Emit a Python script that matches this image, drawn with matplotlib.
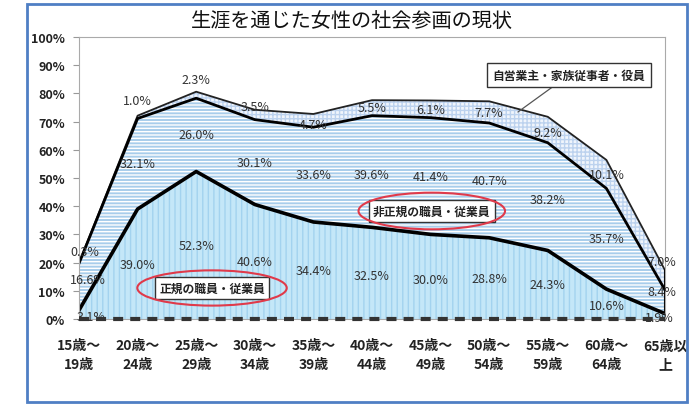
import matplotlib
matplotlib.use('Agg')
import matplotlib.pyplot as plt
import numpy as np
from matplotlib.patches import Ellipse, Rectangle

# --- データ ---
age_labels = ['15歳～\n19歳', '20歳～\n24歳', '25歳～\n29歳', '30歳～\n34歳', '35歳～\n39歳',
              '40歳～\n44歳', '45歳～\n49歳', '50歳～\n54歳', '55歳～\n59歳', '60歳～\n64歳', '65歳以\n上']
regular = [3.1, 39.0, 52.3, 40.6, 34.4, 32.5, 30.0, 28.8, 24.3, 10.6, 1.9]      # 正規の職員・従業員
nonregular = [16.6, 32.1, 26.0, 30.1, 33.6, 39.6, 41.4, 40.7, 38.2, 35.7, 8.4]  # 非正規の職員・従業員
selfemp = [0.3, 1.0, 2.3, 3.5, 4.7, 5.5, 6.1, 7.7, 9.2, 10.1, 7.0]             # 自営業主・家族従事者・役員
yticks = [0, 10, 20, 30, 40, 50, 60, 70, 80, 90, 100]

# ラベル位置の微調整 (x, y のずれ)
reg_dx = [0.2, 0, 0, 0, 0, 0, 0, 0, 0, 0, -0.1]
reg_dy = [-0.5, 0, 0, 0, 0, -1, -1, 0, 0, -0.5, -0.3]
non_dx = [0.15, 0, 0, 0, 0, 0, 0, 0, 0, 0, -0.05]
non_dy = [2.6, 0, 0, 0, 0, -1, 0, 0, -1, 0, 3.6]
self_dx = [0.1, 0, 0, 0, 0, 0, 0, 0, 0, 0, -0.05]
self_dy = [4, 6, 5.5, 3, -1.5, 0, 0, 0, -1, 0, 6.7]

plt.rcParams['font.family'] = ['Noto Sans CJK JP', 'DejaVu Sans']
plt.rcParams['hatch.linewidth'] = 1.0

x = np.arange(len(age_labels))
reg = np.array(regular)
cum2 = reg + np.array(nonregular)
total = cum2 + np.array(selfemp)

fig = plt.figure(figsize=(6.91, 4.06), dpi=100)
ax = fig.add_axes([79 / 691, 86 / 406, 586 / 691, 282 / 406])

# 外枠 (青)
fig.patches.append(Rectangle((27 / 691, 3 / 406), 660 / 691, 398 / 406, transform=fig.transFigure,
                             fill=False, edgecolor='#4f7fc4', linewidth=2, zorder=0))

# --- 積み上げ面 ---
ax.fill_between(x, 0, reg, facecolor='#c4e7f8', edgecolor='#a3d3ef', hatch='|||', linewidth=0)
ax.fill_between(x, reg, cum2, facecolor='#a8cdeb', edgecolor='#ffffff', hatch='-----', linewidth=0)
ax.fill_between(x, cum2, total, facecolor='#f0f5fc', edgecolor='#bcd2ee', hatch='++++', linewidth=0)

ax.plot(x, total, color='#222222', lw=1.3)
ax.plot(x, cum2, color='black', lw=2.0)
ax.plot(x, reg, color='black', lw=2.6)
ax.plot([x[-1], x[-1]], [reg[-1], total[-1]], color='black', lw=1.5)
ax.axhline(0, color='#333333', lw=3, dashes=(2.4, 1.7), clip_on=False, zorder=4)

# --- 数値ラベル ---
lab_kw = dict(ha='center', va='center', fontsize=9, color='#333333', clip_on=False)
for i in range(len(x)):
    ax.text(x[i] + reg_dx[i], reg[i] / 2 + reg_dy[i], f'{regular[i]:.1f}%', **lab_kw)
    ax.text(x[i] + non_dx[i], (reg[i] + cum2[i]) / 2 + non_dy[i], f'{nonregular[i]:.1f}%', **lab_kw)
    ax.text(x[i] + self_dx[i], (cum2[i] + total[i]) / 2 + self_dy[i], f'{selfemp[i]:.1f}%', **lab_kw)

# --- 系列名の吹き出し ---
box_kw = dict(boxstyle='square,pad=0.35', facecolor='white', edgecolor='#333333', linewidth=1)
ax.text(2.27, 11, '正規の職員・従業員', ha='center', va='center', fontsize=8.5,
        fontweight='bold', color='#222222', bbox=box_kw, zorder=5)
ax.add_patch(Ellipse((2.27, 11), 2.55, 12.5, fill=False, edgecolor='#e03a4a', lw=1.5, zorder=6))
ax.text(6.02, 38.3, '非正規の職員・従業員', ha='center', va='center', fontsize=8.5,
        fontweight='bold', color='#222222', bbox=box_kw, zorder=5)
ax.add_patch(Ellipse((6.02, 38.3), 2.5, 13, fill=False, edgecolor='#e03a4a', lw=1.5, zorder=6))
ax.annotate('自営業主・家族従事者・役員', xy=(7.49, 73.4), xytext=(8.36, 86.5),
            ha='center', va='center', fontsize=8.5, fontweight='bold', color='#222222',
            bbox=dict(boxstyle='square,pad=0.45', facecolor='white', edgecolor='#333333', linewidth=1),
            arrowprops=dict(arrowstyle='-', color='#555555', lw=0.9, shrinkA=0, shrinkB=0),
            zorder=5)

# --- 軸 ---
ax.set_xlim(0, 10)
ax.set_ylim(0, 100)
ax.set_xticks(x)
ax.set_xticklabels(age_labels, fontsize=10, fontweight='bold', color='#222222', linespacing=1.45)
ax.set_yticks(yticks)
ax.set_yticklabels([f'{v}%' for v in yticks], fontsize=9, fontweight='bold', color='#222222')
ax.tick_params(axis='x', length=0, pad=14)
ax.tick_params(axis='y', length=4, color='#999999', pad=6)
for s in ax.spines.values():
    s.set_color('#aaaaaa')
    s.set_linewidth(0.8)

fig.text(352 / 691, 1 - 21 / 406, '生涯を通じた女性の社会参画の現状', ha='center', va='center',
         fontsize=14.5, color='#111111')

plt.savefig('out.png', dpi=100)
